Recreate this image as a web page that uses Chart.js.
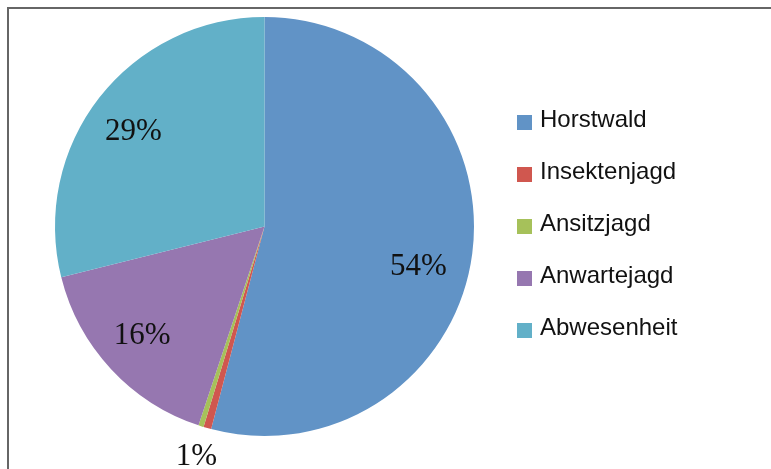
<!DOCTYPE html>
<html>
<head>
<meta charset="utf-8">
<script src="https://cdn.jsdelivr.net/npm/chart.js@4/dist/chart.umd.min.js"></script>
<style>
  html, body { margin: 0; padding: 0; background: #fff; }
  #wrap { width: 771px; height: 469px; }
</style>
</head>
<body>
<div id="wrap"><canvas id="myChart" width="771" height="469"></canvas></div>
<script>
// data (percent)
var categories = ['Horstwald', 'Insektenjagd', 'Ansitzjagd', 'Anwartejagd', 'Abwesenheit'];
var shares = [54.1, 0.6, 0.4, 16, 28.9];
var sliceColors = ['#6193c6', '#d0574f', '#a6c15a', '#9677b0', '#62b0c8'];

// frame round the picture (only top and left edges show)
var framePlugin = {
  id: 'frame',
  beforeDraw: function(chart) {
    var ctx = chart.ctx;
    ctx.save();
    ctx.strokeStyle = '#666';
    ctx.lineWidth = 2;
    ctx.beginPath();
    ctx.moveTo(8, 469);
    ctx.lineTo(8, 8);
    ctx.lineTo(771, 8);
    ctx.stroke();
    ctx.restore();
  }
};

// percent labels, inside big slices, outside small ones
// small nudges (px) so they sit where excel put them
var nudge = [[-6, 20], [-3, 1], [0, 0], [-4, 0], [-4, 5]];
var pctLabels = {
  id: 'pctLabels',
  afterDatasetsDraw: function(chart) {
    var ctx = chart.ctx;
    var meta = chart.getDatasetMeta(0);
    ctx.save();
    ctx.font = '31px "Liberation Serif", "Times New Roman", serif';
    ctx.fillStyle = '#111';
    ctx.textAlign = 'center';
    ctx.textBaseline = 'middle';
    meta.data.forEach(function(arc, i) {
      var txt = Math.round(shares[i]);
      if (txt < 1) return;
      var p = arc.getProps(['x', 'y', 'startAngle', 'endAngle', 'outerRadius'], true);
      var mid = (p.startAngle + p.endAngle) / 2;
      var f = shares[i] < 3 ? 1.14 : 0.77;
      var x = p.x + Math.cos(mid) * p.outerRadius * f + nudge[i][0];
      var y = p.y + Math.sin(mid) * p.outerRadius * f + nudge[i][1];
      ctx.fillText(txt + '%', x, y);
    });
    ctx.restore();
  }
};

// legend on the right
var sideLegend = {
  id: 'sideLegend',
  afterDraw: function(chart) {
    var ctx = chart.ctx;
    var x0 = 517, y0 = 122.5, step = 52, box = 15;
    ctx.save();
    ctx.font = '24px "Liberation Sans", Arial, sans-serif';
    ctx.textBaseline = 'middle';
    ctx.textAlign = 'left';
    categories.forEach(function(name, i) {
      var cy = y0 + i * step;
      ctx.fillStyle = sliceColors[i];
      ctx.fillRect(x0, cy - box / 2, box, box);
      ctx.fillStyle = '#111';
      ctx.fillText(name, x0 + 23, cy - 2);
    });
    ctx.restore();
  }
};

new Chart('myChart', {
  type: 'pie',
  data: {
    labels: categories,
    datasets: [{
      data: shares,
      backgroundColor: sliceColors,
      borderWidth: 0
    }]
  },
  options: {
    responsive: false,
    animation: false,
    layout: { padding: { left: 55, right: 297, top: 17, bottom: 33 } },
    plugins: {
      legend: { display: false },
      tooltip: { enabled: false }
    }
  },
  plugins: [framePlugin, pctLabels, sideLegend]
});
</script>
</body>
</html>
